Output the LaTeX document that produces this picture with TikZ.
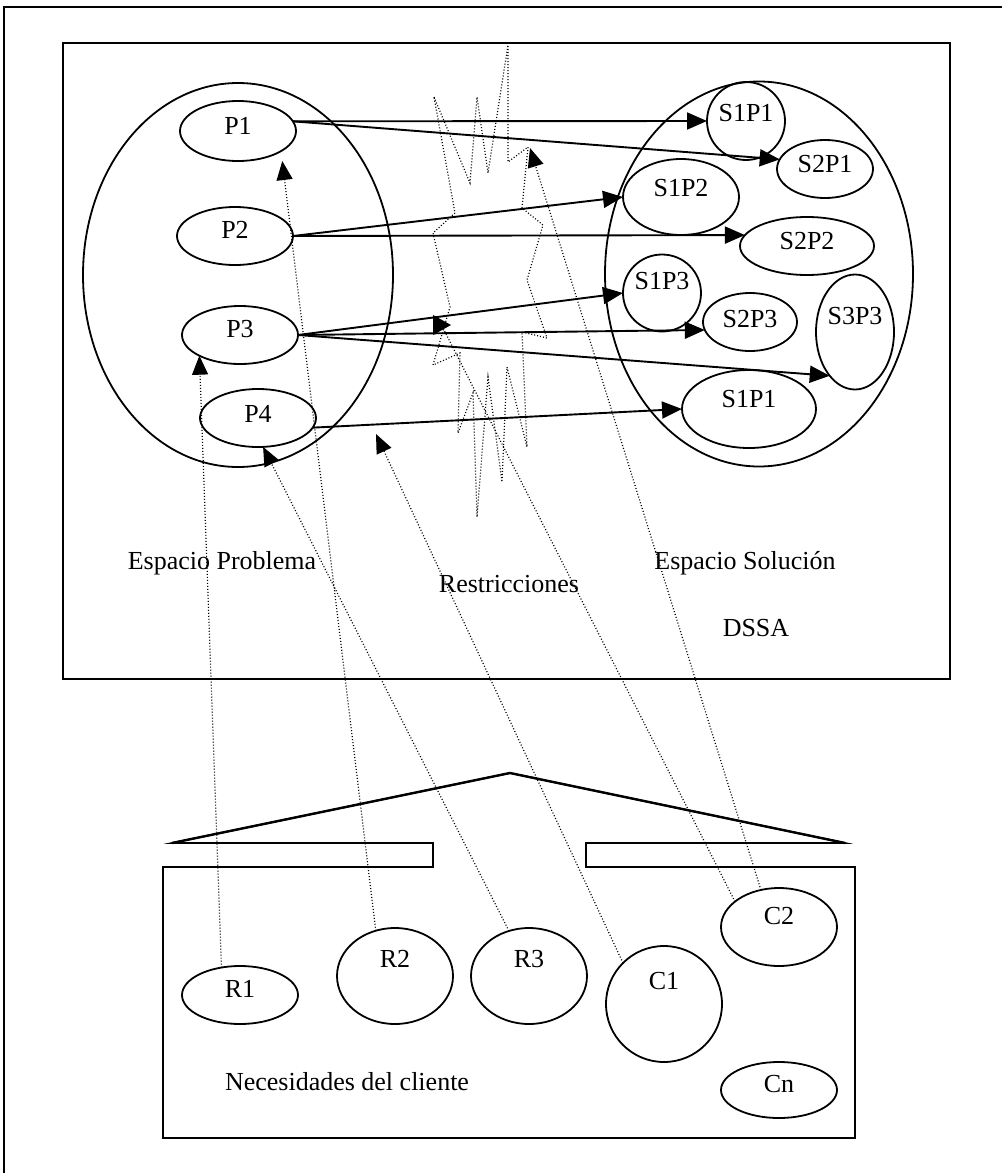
\documentclass[tikz,border=0pt]{standalone}
\usepackage{fontspec}
\setmainfont{Liberation Serif}
\usetikzlibrary{shapes.geometric,arrows.meta}
\begin{document}
\begin{tikzpicture}[x=1pt,y=-1pt,
  every node/.style={font=\fontsize{26}{30}\selectfont},
  oval/.style={draw, ellipse, line width=1.8pt, inner sep=0pt, outer sep=0pt, text height=18pt},
  lift/.style={text depth=#1},
  sz/.style 2 args={minimum width=#1pt, minimum height=#2pt},
  frame/.style={line width=1.7pt},
  arr/.style={line width=1.9pt, -{Triangle[length=20pt, width=17pt]}},
  dline/.style={line width=1.2pt, dash pattern=on 1pt off 2pt},
  darr/.style={dline, -{Triangle[length=19pt, width=16pt]}}
]
\useasboundingbox (0,0) rectangle (1002,1173);

% outer frame and DSSA box
\draw[frame] (1002,7) -- (4,7) -- (4,1173);
\draw[frame] (63,43) rectangle (950,679);

% problem space
\node[oval, sz={310}{384}] (EP) at (238,275) {};
\node[oval, sz={116}{60}, lift=12pt] (P1) at (238,131) {P1};
\node[oval, sz={116}{58}, lift=14pt] (P2) at (235,236) {P2};
\node[oval, sz={116}{58}, lift=14pt] (P3) at (240,335) {P3};
\node[oval, sz={116}{58}, lift=10pt] (P4) at (258,418) {P4};

% solution space
\node[oval, sz={308}{385}] (ES) at (759,274) {};
\node[oval, sz={78}{78}, lift=18pt] (S1P1a) at (746,121) {S1P1};
\node[oval, sz={96}{58}, lift=12pt] (S2P1) at (825,169) {S2P1};
\node[oval, sz={116}{76}, lift=20pt] (S1P2) at (681,197) {S1P2};
\node[oval, sz={134}{58}, lift=12pt] (S2P2) at (807,246) {S2P2};
\node[oval, sz={78}{77}, lift=26pt] (S1P3) at (662,293) {S1P3};
\node[oval, sz={94}{58}, lift=8pt] (S2P3) at (750,322) {S2P3};
\node[oval, sz={78}{115}, lift=34pt] (S3P3) at (855,332) {S3P3};
\node[oval, sz={134}{78}, lift=22pt] (S1P1b) at (749,409) {S1P1};

% labels of the upper box
\node (lEP) at (222,563) {Espacio Problema};
\node (lES) at (745,563) {Espacio Solución};
\node (lR) at (509,584) {Restricciones};
\node (lD) at (756,628) {DSSA};

% mappings from problems to solutions
\draw[arr] (P1.10) -- (S1P1a.west);
\draw[arr] (P1.10) -- (S2P1.168);
\draw[arr] (P2.east) -- (S1P2.west);
\draw[arr] (P2.east) -- (S2P2.170);
\draw[arr] (P3.east) -- (S1P3.west);
\draw[arr] (P3.east) -- (S2P3.190);
\draw[arr] (P3.east) -- (S3P3.240);
\draw[arr] (P4.350) -- (S1P1b.west);

% restrictions: jagged dotted outline
\draw[dline] (434,97) -- (470,183) -- (477,97) -- (488,173) -- (508,45) -- (508,162)
  -- (528,147) -- (522,208) -- (543,225) -- (527,280) -- (547,338) -- (522,332)
  -- (527,447) -- (507,367) -- (502,482) -- (488,377) -- (477,517) -- (473,393)
  -- (458,433) -- (460,353) -- (433,365) -- (450,307) -- (433,233) -- (455,213) -- cycle;

% client needs: roof, bars and box
\draw[frame] (172,843) -- (510,773) -- (845,843) -- (586,843) -- (586,867) -- (855,867)
  -- (855,1138) -- (163,1138) -- (163,867) -- (433,867) -- (433,843) -- cycle;
\draw[line width=2.4pt] (172,843) -- (510,773) -- (845,843);

\node[oval, sz={116}{58}, lift=14pt] (R1) at (240,995) {R1};
\node[oval, sz={116}{96}, lift=36pt] (R2) at (395,976) {R2};
\node[oval, sz={116}{96}, lift=36pt] (R3) at (529,976) {R3};
\node[oval, sz={116}{116}, lift=48pt] (C1) at (664,1004) {C1};
\node[oval, sz={116}{78}, lift=24pt] (C2) at (779,927) {C2};
\node[oval, sz={116}{56}, lift=14pt] (Cn) at (779,1090) {Cn};
\node (lN) at (347,1082) {Necesidades del cliente};

% traces from client needs into the DSSA
\coordinate (c1end) at (376,434);
\coordinate (c2end) at (530,148);
\coordinate (c2mid) at (442,326);
\draw[darr] (R1.124) -- (P3.207);
\draw[darr, shorten >=10pt] (R2.113) -- (P1.335);
\draw[darr] (R3.114) -- (P4.280);
\draw[darr] (C1.135) -- (c1end);
\draw[darr] (C2.116) -- (c2end);
\draw[dline] (C2.150) -- (c2mid);
\fill (433,315) -- (451,325) -- (433,335) -- cycle;
\end{tikzpicture}
\end{document}
